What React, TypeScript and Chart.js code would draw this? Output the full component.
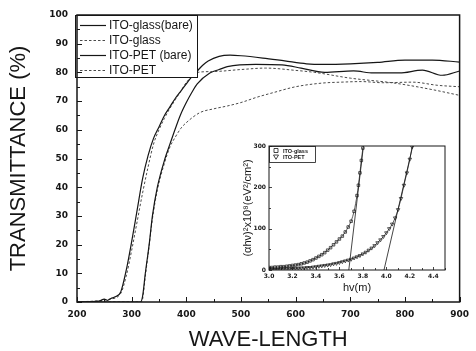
import React, { useEffect, useRef } from "react";
import { Chart, registerables } from "chart.js";

Chart.register(...registerables);

// ---------- main chart data ----------
const xTickValues = [200, 300, 400, 500, 600, 700, 800, 900];
const yTickValues = [0, 10, 20, 30, 40, 50, 60, 70, 80, 90, 100];

const seriesLabels = ["ITO-glass(bare)", "ITO-glass", "ITO-PET (bare)", "ITO-PET"];

const glassBareNm = [200, 240, 250, 256, 262, 270, 280, 290, 300, 310, 320, 330, 340, 350, 360, 370, 380, 390, 400, 410, 420, 430, 440, 460, 480, 500, 540, 580, 620, 650, 700, 750, 800, 850, 900];
const glassBareT = [0, 0.3, 1.0, 0.6, 1.2, 1.8, 3.5, 11, 21, 32, 43, 51, 57, 61, 65, 68, 71, 73.5, 76, 78.5, 80.5, 82.5, 84, 85.6, 86, 85.8, 85, 84, 83, 82.8, 83, 83.5, 84.3, 84.3, 83.6];

const glassNm = [200, 260, 280, 290, 300, 310, 320, 330, 340, 350, 360, 370, 380, 390, 400, 410, 420, 450, 500, 545, 600, 635, 700, 780, 850, 900];
const glassT = [0, 1, 3, 9, 18, 28, 38, 47, 55, 60, 64, 67.5, 70.5, 73.5, 76.5, 78.5, 80, 80.3, 81, 81.5, 80.7, 80, 78, 76.3, 74, 72];

const petBareNm = [200, 316, 320, 325, 332, 338, 347, 361, 370, 381, 390, 400, 410, 420, 443, 460, 475, 527, 575, 610, 653, 706, 742, 790, 832, 868, 900];
const petBareT = [0, 0, 2, 10, 20, 30, 40, 50, 55, 61, 65.5, 69.5, 73, 76, 79.8, 81, 82, 82.8, 82.6, 81.5, 80, 80.5, 79.8, 79.8, 80.8, 79, 80.5];

const petNm = [200, 317, 320, 325, 331, 338, 347, 361, 370, 380, 390, 400, 425, 450, 475, 500, 530, 560, 600, 650, 683, 720, 760, 814, 860, 900];
const petT = [0, 0, 1, 9, 18, 29, 39, 49, 54, 57.5, 60.5, 62.5, 66, 67.3, 68.3, 69.5, 71.4, 73, 75, 76.3, 76.6, 76.8, 76.4, 76.6, 75.5, 75];

// ---------- inset data ----------
const insetLabels = ["ITO-glass", "ITO-PET"];
const insetXTicks = [3.0, 3.2, 3.4, 3.6, 3.8, 4.0, 4.2, 4.4];
const insetYTicks = [0, 100, 200, 300];

const glassHv = [3.0, 3.025, 3.05, 3.075, 3.1, 3.125, 3.15, 3.175, 3.2, 3.225, 3.25, 3.275, 3.3, 3.325, 3.35, 3.375, 3.4, 3.425, 3.45, 3.475, 3.5, 3.525, 3.55, 3.575, 3.6, 3.625, 3.65, 3.675, 3.7, 3.725, 3.75, 3.762, 3.775, 3.787, 3.8];
const glassAbs = [6, 6, 7, 7, 8, 8, 9, 10, 11, 12, 13, 15, 17, 19, 22, 25, 29, 33, 37, 42, 48, 54, 61, 68, 75, 82, 92, 104, 118, 142, 180, 205, 235, 265, 295];

const petHv = [3.0, 3.025, 3.05, 3.075, 3.1, 3.125, 3.15, 3.175, 3.2, 3.225, 3.25, 3.275, 3.3, 3.325, 3.35, 3.375, 3.4, 3.425, 3.45, 3.475, 3.5, 3.525, 3.55, 3.575, 3.6, 3.625, 3.65, 3.675, 3.7, 3.725, 3.75, 3.775, 3.8, 3.825, 3.85, 3.875, 3.9, 3.925, 3.95, 3.975, 4.0, 4.025, 4.05, 4.075, 4.1, 4.125, 4.15, 4.175, 4.2, 4.22];
const petAbs = [2, 2, 2, 2, 3, 3, 3, 3, 4, 4, 4, 5, 5, 6, 6, 7, 8, 9, 10, 11, 12, 13, 15, 16, 18, 20, 22, 24, 26, 29, 32, 35, 39, 43, 48, 53, 59, 66, 73, 81, 90, 100, 111, 126, 146, 173, 205, 235, 268, 298];

const glassTangentHv = [3.68, 3.805];
const glassTangentAbs = [0, 300];
const petTangentHv = [3.98, 4.225];
const petTangentAbs = [0, 300];

const SANS = "'Liberation Sans', Arial, sans-serif";
const TICKFONT = "'DejaVu Sans', sans-serif";
const INK = "#161616";

function pts(xs: number[], ys: number[]) {
  return xs.map((x, i) => ({ x, y: ys[i] }));
}

const frameTicks = {
  id: "frameTicks",
  afterDraw(chart: any, _args: any, o: any) {
    const { ctx, chartArea: a, scales } = chart;
    ctx.save();
    ctx.strokeStyle = INK;
    ctx.lineWidth = o.lineWidth;
    ctx.strokeRect(a.left, a.top, a.right - a.left, a.bottom - a.top);
    ctx.lineWidth = o.tickWidth;
    ctx.beginPath();
    const xs = scales.x;
    const ys = scales.y;
    const nx = Math.round((xs.max - xs.min) / o.xMinor);
    for (let i = 0; i <= nx; i++) {
      const v = xs.min + i * o.xMinor;
      const len = i % o.xEvery === 0 ? o.majorLen : o.minorLen;
      const px = Math.round(xs.getPixelForValue(v)) + 0.5;
      ctx.moveTo(px, a.bottom);
      ctx.lineTo(px, a.bottom - len);
    }
    const ny = Math.round((ys.max - ys.min) / o.yMinor);
    for (let i = 0; i <= ny; i++) {
      const v = ys.min + i * o.yMinor;
      const len = i % o.yEvery === 0 ? o.majorLen : o.minorLen;
      const py = Math.round(ys.getPixelForValue(v)) + 0.5;
      ctx.moveTo(a.left, py);
      ctx.lineTo(a.left + len, py);
    }
    ctx.stroke();
    ctx.restore();
  },
};

const boxLegend = {
  id: "boxLegend",
  afterDatasetsDraw(chart: any, _args: any, o: any) {
    const { ctx, chartArea: a } = chart;
    const x0 = a.left + o.dx;
    const y0 = a.top + o.dy;
    ctx.save();
    ctx.fillStyle = "#fff";
    ctx.fillRect(x0, y0, o.width, o.height);
    ctx.strokeStyle = INK;
    ctx.lineWidth = o.boxWidth;
    ctx.strokeRect(x0 + 0.5, y0 + 0.5, o.width, o.height);
    let row = 0;
    chart.data.datasets.forEach((ds: any) => {
      if (!ds.label) return;
      const y = y0 + o.firstRow + row * o.rowGap;
      row++;
      if (o.markers) {
        const mx = x0 + o.sampleStart + 3;
        ctx.strokeStyle = ds.borderColor;
        ctx.lineWidth = 0.8;
        ctx.beginPath();
        if (ds.pointStyle === "rect") {
          ctx.rect(mx - 2, y - 2, 4, 4);
        } else {
          ctx.moveTo(mx - 2.5, y - 2);
          ctx.lineTo(mx + 2.5, y - 2);
          ctx.lineTo(mx, y + 2.3);
          ctx.closePath();
        }
        ctx.stroke();
      } else {
        ctx.setLineDash(ds.borderDash || []);
        ctx.strokeStyle = ds.borderColor;
        ctx.lineWidth = ds.borderWidth;
        ctx.beginPath();
        ctx.moveTo(x0 + o.sampleStart, y + 0.5);
        ctx.lineTo(x0 + o.sampleEnd, y + 0.5);
        ctx.stroke();
        ctx.setLineDash([]);
      }
      ctx.fillStyle = INK;
      ctx.font = o.font;
      ctx.textBaseline = "middle";
      ctx.textAlign = "left";
      ctx.fillText(ds.label, x0 + o.textX, y + 0.5);
    });
    ctx.restore();
  },
};

export default function App() {
  const mainRef = useRef<HTMLCanvasElement>(null);
  const insetRef = useRef<HTMLCanvasElement>(null);

  useEffect(() => {
    const solid = { borderColor: INK, borderWidth: 1.2, pointRadius: 0, cubicInterpolationMode: "monotone" as const, fill: false };
    const dotted = { borderColor: "#4a4a4a", borderWidth: 1, borderDash: [2.5, 2], pointRadius: 0, cubicInterpolationMode: "monotone" as const, fill: false };

    const main = new Chart(mainRef.current!, {
      type: "line",
      data: {
        datasets: [
          { label: seriesLabels[0], data: pts(glassBareNm, glassBareT), ...solid },
          { label: seriesLabels[1], data: pts(glassNm, glassT), ...dotted },
          { label: seriesLabels[2], data: pts(petBareNm, petBareT), ...solid },
          { label: seriesLabels[3], data: pts(petNm, petT), ...dotted },
        ],
      },
      options: {
        responsive: false,
        animation: false,
        devicePixelRatio: 1,
        layout: { padding: { left: 0, right: 8, top: 15, bottom: 0 } },
        plugins: {
          legend: { display: false },
          tooltip: { enabled: false },
          frameTicks: { lineWidth: 1.5, tickWidth: 1, xMinor: 50, xEvery: 2, yMinor: 5, yEvery: 2, majorLen: 5, minorLen: 3 },
          boxLegend: { dx: -2, dy: 0, width: 122, height: 62, boxWidth: 1, firstRow: 10, rowGap: 15, sampleStart: 5, sampleEnd: 31, textX: 34, font: `12px ${SANS}` },
        } as any,
        scales: {
          x: {
            type: "linear",
            min: 200,
            max: 900,
            afterBuildTicks: (s: any) => { s.ticks = xTickValues.map((v) => ({ value: v })); },
            afterFit: (s: any) => { s.height = 49; },
            ticks: { autoSkip: false, maxRotation: 0, padding: 7, color: INK, font: { family: TICKFONT, size: 9, weight: "bold" } },
            grid: { display: false, drawTicks: false },
            border: { display: false },
            title: { display: true, text: "WAVE-LENGTH", color: INK, font: { family: SANS, size: 22, lineHeight: 1 }, padding: { top: 0, bottom: 0 } },
          },
          y: {
            type: "linear",
            min: 0,
            max: 100,
            afterBuildTicks: (s: any) => { s.ticks = yTickValues.map((v) => ({ value: v })); },
            afterFit: (s: any) => { s.width = 77; },
            ticks: { autoSkip: false, padding: 9, color: INK, font: { family: TICKFONT, size: 9, weight: "bold" } },
            grid: { display: false, drawTicks: false },
            border: { display: false },
            title: { display: true, text: "TRANSMITTANCE (%)", color: INK, font: { family: SANS, size: 22, lineHeight: 1 }, padding: { top: 8, bottom: 0 } },
          },
        },
      },
      plugins: [boxLegend, frameTicks],
    });

    const inset = new Chart(insetRef.current!, {
      type: "line",
      data: {
        datasets: [
          { label: insetLabels[0], data: pts(glassHv, glassAbs), borderColor: INK, backgroundColor: "rgba(255,255,255,0)", borderWidth: 0.7, pointStyle: "rect", pointRadius: 1.8, pointBorderWidth: 0.7, showLine: true, tension: 0.3 },
          { label: insetLabels[1], data: pts(petHv, petAbs), borderColor: INK, backgroundColor: "rgba(255,255,255,0)", borderWidth: 0.7, pointStyle: "triangle", rotation: 180, pointRadius: 2, pointBorderWidth: 0.7, showLine: true, tension: 0.3 },
          { label: "", data: pts(glassTangentHv, glassTangentAbs), borderColor: INK, borderWidth: 0.8, pointRadius: 0 },
          { label: "", data: pts(petTangentHv, petTangentAbs), borderColor: INK, borderWidth: 0.8, pointRadius: 0 },
        ],
      },
      options: {
        responsive: false,
        animation: false,
        devicePixelRatio: 1,
        layout: { padding: { left: 0, right: 5, top: 8, bottom: 0 } },
        plugins: {
          legend: { display: false },
          tooltip: { enabled: false },
          frameTicks: { lineWidth: 1, tickWidth: 0.8, xMinor: 0.1, xEvery: 2, yMinor: 50, yEvery: 2, majorLen: 3, minorLen: 2 },
          boxLegend: { dx: 0, dy: 0, width: 46, height: 16, boxWidth: 0.8, firstRow: 4.5, rowGap: 6.5, sampleStart: 4, sampleEnd: 10, textX: 14, markers: true, font: `bold 5.5px ${SANS}` },
        } as any,
        scales: {
          x: {
            type: "linear",
            min: 3.0,
            max: 4.5,
            afterBuildTicks: (s: any) => { s.ticks = insetXTicks.map((v) => ({ value: v })); },
            afterFit: (s: any) => { s.height = 25; },
            ticks: { autoSkip: false, maxRotation: 0, padding: 3, color: INK, callback: (v: any) => Number(v).toFixed(1), font: { family: TICKFONT, size: 6, weight: "bold" } },
            grid: { display: false, drawTicks: false },
            border: { display: false },
            title: { display: true, text: "hv(m)", color: INK, font: { family: SANS, size: 11, lineHeight: 1 }, padding: { top: 0, bottom: 2 } },
          },
          y: {
            type: "linear",
            min: 0,
            max: 300,
            afterBuildTicks: (s: any) => { s.ticks = insetYTicks.map((v) => ({ value: v })); },
            afterFit: (s: any) => { s.width = 44; },
            ticks: { autoSkip: false, padding: 3, color: INK, font: { family: TICKFONT, size: 6, weight: "bold" } },
            grid: { display: false, drawTicks: false },
            border: { display: false },
            title: { display: true, text: "(αhν)²x10⁸(eV²/cm²)", color: INK, font: { family: SANS, size: 11, lineHeight: 1 }, padding: { top: 17, bottom: 0 } },
          },
        },
      },
      plugins: [boxLegend, frameTicks],
    });

    return () => {
      main.destroy();
      inset.destroy();
    };
  }, []);

  return (
    <div style={{ position: "absolute", left: 0, top: 0, width: 476, height: 351, background: "#fff" }}>
      <canvas ref={mainRef} width={476} height={351} style={{ position: "absolute", left: 0, top: 0, width: 476, height: 351 }} />
      <canvas ref={insetRef} width={225} height={157} style={{ position: "absolute", left: 225, top: 138, width: 225, height: 157 }} />
    </div>
  );
}
